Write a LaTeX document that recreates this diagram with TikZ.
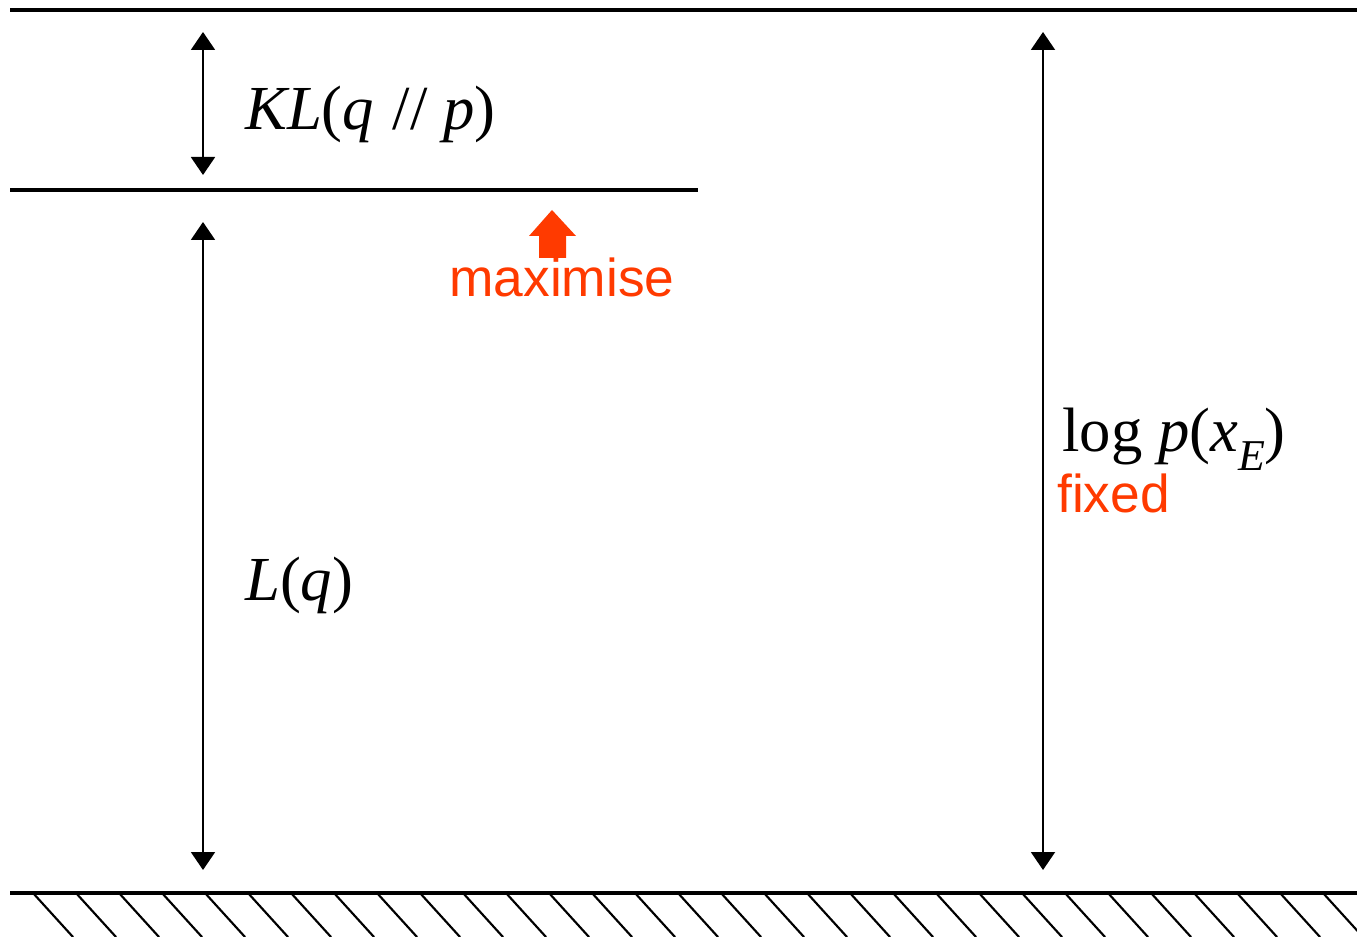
\documentclass[tikz,border=0pt]{standalone}
\usepackage{fontspec}
\setmainfont{Liberation Serif}
\newfontfamily\sansf{Liberation Sans}
\usetikzlibrary{arrows.meta}
\definecolor{redorange}{RGB}{255,58,0}
\begin{document}
\begin{tikzpicture}[x=0.75pt,y=-0.75pt,
  level/.style={line width=2.6pt},
  hatch/.style={line width=1.6pt},
  measure/.style={line width=1.5pt,{Triangle[length=13.5pt,width=18pt]}-{Triangle[length=13.5pt,width=18pt]}},
  mathlbl/.style={anchor=base west,inner sep=0pt,font=\fontsize{47}{52}\selectfont},
  redlbl/.style={anchor=base west,inner sep=0pt,text=redorange,font=\sansf\fontsize{40}{44}\selectfont}]
\useasboundingbox (0,0) rectangle (1357,937);
% levels
\coordinate (topL) at (10,10); \coordinate (topR) at (1357,10);
\coordinate (midL) at (10,190); \coordinate (midR) at (698,190);
\coordinate (botL) at (10,893); \coordinate (botR) at (1357,893);
\draw[level] (topL) -- (topR);
\draw[level] (midL) -- (midR);
\draw[level] (botL) -- (botR);
% hatching
\begin{scope}
\clip (0,893) rectangle (1357,937);
\foreach \k in {0,...,31} {
  \draw[hatch] ({33+43*\k},893) -- ++(40,44);
}
\end{scope}
% measure arrows
\coordinate (klT) at (203,32); \coordinate (klB) at (203,175);
\coordinate (lT) at (203,222); \coordinate (lB) at (203,870);
\coordinate (pT) at (1043,32); \coordinate (pB) at (1043,870);
\draw[measure] (klT) -- (klB);
\draw[measure] (lT) -- (lB);
\draw[measure] (pT) -- (pB);
% labels
\node[mathlbl] (kl) at (245,130) {\textit{KL}(\textit{q}\hspace{0.05em} // \textit{p})};
\node[mathlbl] (lq) at (245,600) {\textit{L}(\textit{q})};
\node[mathlbl] (lp) at (1062,452) {log \textit{p}(\textit{x}\raisebox{-0.3em}{\fontsize{33}{35}\selectfont\textit{E}})};
\node[redlbl] (fx) at (1057,513) {fixed};
\node[redlbl] (mx) at (449,297) {maximise};
% red block arrow
\fill[redorange] (552,210) -- (576,236) -- (566,236) -- (566,258) -- (539,258) -- (539,236) -- (529,236) -- cycle;
\end{tikzpicture}
\end{document}
